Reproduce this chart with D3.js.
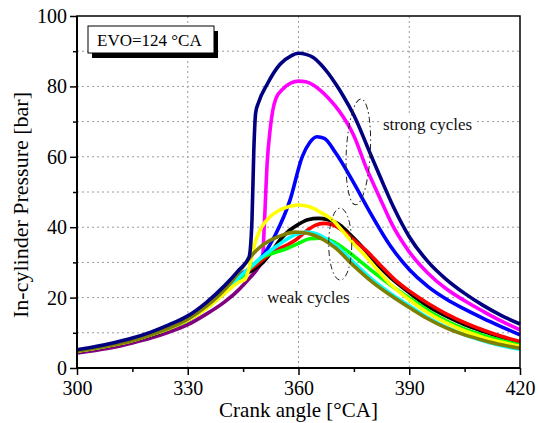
<!DOCTYPE html>
<html lang="en">
<head>
<meta charset="UTF-8">
<title>In-cylinder pressure</title>
<style>
    body { margin: 0; background: #fff; }
    svg { display: block; font-family: "Liberation Serif", "Times New Roman", serif; }
</style>
</head>
<body>
<svg id="chart" width="538" height="423"></svg>
<script src="https://cdn.jsdelivr.net/npm/d3@7"></script>
<script>
// pressure traces [crank angle °CA, pressure bar]
const navy = [[300,5.2],[305,6.1],[310,7.2],[315,8.5],[320,10.2],[325,12.3],[330,14.8],[335,18.6],[340,23.4],[344,28.0],[346.6,31.5],[347.4,42],[347.9,62],[348.4,72.5],[349.2,75.5],[351.4,80.4],[355,86.3],[358,88.7],[360,89.4],[362,89.1],[364,88.2],[366,86.3],[368,83.8],[370,80.8],[372,77.5],[375,71.8],[379.4,61],[382,54.6],[385.7,45.8],[390,37.3],[395,30.3],[400,25.2],[405,21.2],[410,17.8],[415,14.9],[420,12.5]];
const magenta = [[347,25.8],[349,28.4],[350.2,30.5],[350.8,42],[351.5,58],[352.3,67.6],[353,73],[353.9,76.6],[356,79.5],[358,81],[360,81.5],[362,81.3],[364,80.4],[366,78.8],[368,76.8],[370,74.4],[372,71.5],[375,66],[378.5,56.5],[380,53],[382.6,47],[385,41.5],[390,33],[395,27],[400,22.5],[405,19.1],[410,16.1],[415,13.3],[420,10.8]];
const purple = [[300,4.3],[305,5.0],[310,5.9],[315,7.1],[320,8.5],[325,10.2],[330,12.3],[335,15.3],[340,18.8],[343,21.4],[345,23.5],[347,25.8],[349,28.4],[350.2,30.5]];
const blue = [[300,4.9],[305,5.7],[310,6.7],[315,8.0],[320,9.6],[325,11.6],[330,14.0],[335,17.5],[340,22.0],[345,27.0],[347.5,28.8],[350,31.5],[353.7,37.8],[357.7,47.7],[361,60],[363,64],[365,65.7],[367,65.2],[370,61.2],[375,52.5],[379,44.9],[385,34.5],[390,28],[395,23.2],[400,19.6],[405,16.7],[410,14.1],[415,11.7],[420,9.4]];
const yellow = [[300,4.8],[305,5.6],[310,6.6],[315,7.8],[320,9.4],[325,11.3],[330,13.6],[335,16.9],[340,21.2],[344,24.5],[345.5,25.2],[346.5,28],[347.5,32.5],[348.5,36.5],[350,40],[352.3,43],[355,44.9],[358,46],[360,46.3],[363,45.8],[366,44.2],[369.5,41.8],[372,38.8],[375,35.2],[378.5,31.4],[381,28.3],[385,23.7],[390,19.4],[395,15.7],[400,12.8],[405,10.5],[410,8.7],[415,7.3],[420,6.1]];
const black = [[300,4.8],[305,5.6],[310,6.6],[315,7.8],[320,9.3],[325,11.3],[330,13.6],[335,17.0],[340,21.4],[345,26.4],[347.8,27.9],[350,29.6],[352,32],[355,36.4],[357,38.6],[360,40.8],[362.5,42.1],[365.4,42.5],[368,42.1],[371.3,40.6],[374,37.9],[377.6,34],[381,29.8],[384.8,25.8],[390,21.4],[395,17.6],[400,14.7],[405,12.3],[410,10.4],[415,8.7],[420,7.3]];
const red = [[300,4.8],[305,5.6],[310,6.6],[315,7.8],[320,9.4],[325,11.4],[330,13.7],[335,17.1],[340,21.6],[345,26.6],[348,28.8],[350,30.5],[352,32.2],[355,34],[357,35],[359.5,36.6],[362,38.8],[364.5,40.5],[366.8,41.1],[369,40.8],[372,39],[375,36.3],[378.5,33.2],[382,29.4],[386,25.2],[390,21.9],[395,18.4],[400,15.4],[405,12.9],[410,10.8],[415,9.0],[420,7.5]];
const green = [[300,4.8],[305,5.6],[310,6.6],[315,7.8],[320,9.4],[325,11.3],[330,13.6],[335,17],[340,21.4],[345,26.3],[348,29.5],[350.5,31.6],[353,32.6],[356,33.6],[360,35.4],[363,36.7],[366,36.9],[369,36.1],[372,34.2],[375,31.8],[380,27.5],[385,23.5],[390,19.9],[395,16.4],[400,13.4],[405,11.1],[410,9.3],[415,7.8],[420,6.5]];
const cyan = [[300,4.9],[305,5.7],[310,6.7],[315,7.9],[320,9.5],[325,11.5],[330,13.9],[335,17.3],[340,21.8],[345,26.8],[348,29.6],[350,31.4],[353,33.8],[356,36],[359,37.8],[362,38.6],[365,38.1],[368,36.3],[370,34.9],[375,29.9],[380,25.1],[385,21.1],[390,17.7],[395,14.3],[400,11.6],[405,9.4],[410,7.7],[415,6.3],[420,5.3]];
const olive = [[300,4.8],[305,5.6],[310,6.6],[315,7.8],[320,9.4],[325,11.4],[330,13.9],[335,17.5],[340,22.3],[344,27.4],[347,31.6],[350,34.7],[353,36.6],[356,37.9],[359,38.6],[361,38.5],[364,37.8],[367,36.3],[370,34.1],[375,29],[380,24.4],[385,20.6],[390,17.2],[395,14],[400,11.4],[405,9.4],[410,7.9],[415,6.6],[420,5.6]];

// ticks
const xTicks = [300, 330, 360, 390, 420];
const xMinor = [315, 345, 375, 405];
const yTicks = [0, 20, 40, 60, 80, 100];
const yMinor = [10, 30, 50, 70, 90];
const xGrid = [330, 360, 390];
const yGrid = [10, 20, 30, 40, 50, 60, 70, 80, 90];

// drawing order, bottom to top
const series = [
    { data: magenta, color: '#ff00ff' },
    { data: purple, color: '#800080' },
    { data: blue, color: '#0000ff' },
    { data: black, color: '#000000' },
    { data: red, color: '#ff0000' },
    { data: green, color: '#00ff00' },
    { data: cyan, color: '#00ffff' },
    { data: yellow, color: '#ffff00' },
    { data: olive, color: '#808000' },
    { data: navy, color: '#000080' }
];

const svg = d3.select('#chart');
const pLeft = 77, pRight = 520, pTop = 16, pBottom = 368;

const x = d3.scaleLinear().domain([300, 420]).range([pLeft, pRight]);
const y = d3.scaleLinear().domain([0, 100]).range([pBottom, pTop]);

// grid
svg.append('g').selectAll('line').data(yGrid).enter().append('line')
    .attr('x1', pLeft).attr('x2', pRight)
    .attr('y1', d => y(d)).attr('y2', d => y(d))
    .attr('stroke', '#9a9a9a').attr('stroke-width', 1).attr('stroke-dasharray', '2,3');
svg.append('g').selectAll('line').data(xGrid).enter().append('line')
    .attr('x1', d => x(d)).attr('x2', d => x(d))
    .attr('y1', pTop).attr('y2', pBottom)
    .attr('stroke', '#9a9a9a').attr('stroke-width', 1).attr('stroke-dasharray', '2,3');

// annotation labels sit on white so the grid breaks behind them
function label(txt, tx, ty) {
    const g = svg.append('g');
    const t = g.append('text').attr('x', tx).attr('y', ty)
        .attr('font-size', 17).attr('fill', '#111').text(txt);
    const b = t.node().getBBox();
    g.insert('rect', 'text').attr('x', b.x - 4).attr('y', b.y - 2)
        .attr('width', b.width + 8).attr('height', b.height + 4).attr('fill', '#fff');
}
label('strong cycles', 383, 130);
label('weak cycles', 267, 303);

// curves
const line = d3.line()
    .x(d => x(d[0]))
    .y(d => y(d[1]))
    .curve(d3.curveMonotoneX);

svg.append('g').selectAll('path').data(series).enter().append('path')
    .attr('d', d => line(d.data))
    .attr('fill', 'none')
    .attr('stroke', d => d.color)
    .attr('stroke-width', 3.6)
    .attr('stroke-linejoin', 'round');

// dash-dot ellipses around the groups
svg.append('ellipse')
    .attr('cx', x(376.2)).attr('cy', y(61.4)).attr('rx', 12).attr('ry', 53)
    .attr('transform', `rotate(3 ${x(376.2)} ${y(61.4)})`)
    .attr('fill', 'none').attr('stroke', '#222').attr('stroke-width', 1)
    .attr('stroke-dasharray', '6,3,1.5,3');
svg.append('ellipse')
    .attr('cx', x(371.3)).attr('cy', y(35.2)).attr('rx', 11.5).attr('ry', 36)
    .attr('fill', 'none').attr('stroke', '#222').attr('stroke-width', 1)
    .attr('stroke-dasharray', '6,3,1.5,3');

// axes
svg.append('g').attr('transform', `translate(0,${pBottom})`)
    .call(d3.axisBottom(x).tickValues(xTicks).tickSize(7).tickPadding(6));
svg.append('g').attr('transform', `translate(0,${pBottom})`)
    .call(d3.axisBottom(x).tickValues(xMinor).tickSize(4).tickFormat(''));
svg.append('g').attr('transform', `translate(${pLeft},0)`)
    .call(d3.axisLeft(y).tickValues(yTicks).tickSize(7).tickPadding(3));
svg.append('g').attr('transform', `translate(${pLeft},0)`)
    .call(d3.axisLeft(y).tickValues(yMinor).tickSize(4).tickFormat(''));

svg.selectAll('.domain').remove();
svg.selectAll('.tick line').attr('stroke', '#000').attr('stroke-width', 1.5);
svg.selectAll('.tick text').attr('font-family', '"Liberation Serif", serif')
    .attr('font-size', 20).attr('fill', '#000');

// frame
svg.append('rect').attr('x', pLeft).attr('y', pTop)
    .attr('width', pRight - pLeft).attr('height', pBottom - pTop)
    .attr('fill', 'none').attr('stroke', '#000').attr('stroke-width', 1.5);
svg.append('line').attr('x1', pLeft).attr('x2', pLeft).attr('y1', pTop).attr('y2', pBottom + 1)
    .attr('stroke', '#000').attr('stroke-width', 2);
svg.append('line').attr('x1', pLeft - 1).attr('x2', pRight).attr('y1', pBottom).attr('y2', pBottom)
    .attr('stroke', '#000').attr('stroke-width', 2);

// EVO box with drop shadow
svg.append('rect').attr('x', 92).attr('y', 31).attr('width', 126).attr('height', 27).attr('fill', '#000');
svg.append('rect').attr('x', 88).attr('y', 26).attr('width', 126).attr('height', 27)
    .attr('fill', '#fff').attr('stroke', '#000').attr('stroke-width', 1);
svg.append('text').attr('x', 97).attr('y', 46).attr('font-size', 17).text('EVO=124 °CA');

// axis titles
svg.append('text').attr('x', (pLeft + pRight) / 2).attr('y', 417)
    .attr('text-anchor', 'middle').attr('font-size', 21).text('Crank angle [°CA]');
svg.append('text')
    .attr('transform', `translate(28,205) rotate(-90)`)
    .attr('text-anchor', 'middle').attr('font-size', 22).text('In-cylinder Pressure [bar]');
</script>
</body>
</html>
